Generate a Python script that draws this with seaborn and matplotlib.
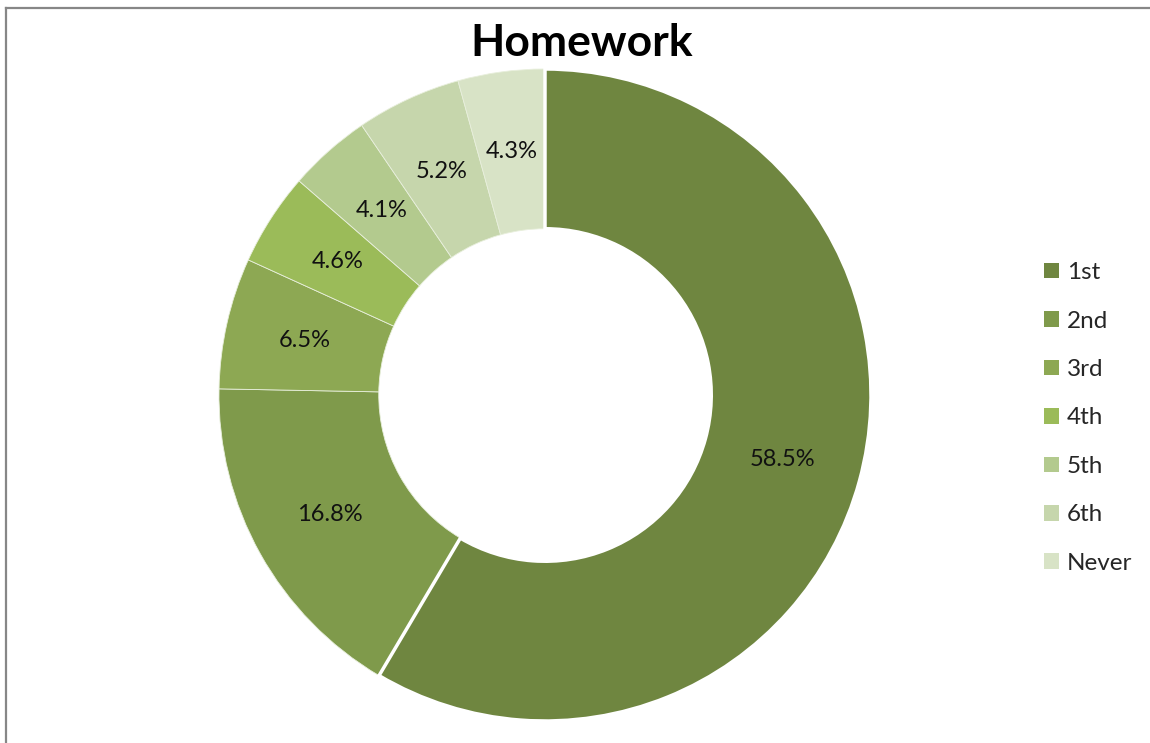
import matplotlib
matplotlib.use("Agg")
import matplotlib.pyplot as plt
from matplotlib.lines import Line2D
from matplotlib.patches import Patch
import seaborn as sns

# Homework ranking shares (percent)
categories = ["1st", "2nd", "3rd", "4th", "5th", "6th", "Never"]
shares = [58.5, 16.8, 6.5, 4.6, 4.1, 5.2, 4.3]
slice_colors = ["#6F8640", "#7F9A4B", "#8DA853", "#9BBB59", "#B3CA8E", "#C6D6AC", "#D8E3C6"]

sns.set_theme(style="white")
plt.rcParams["font.family"] = ["Lato", "DejaVu Sans"]

W, H = 1150, 743
fig = plt.figure(figsize=(W / 100, H / 100), dpi=100)

# chart-area frame: left and top edges only (the rest runs off the canvas)
fx, fy = 5.5 / W, 1 - 7.5 / H
fig.add_artist(Line2D([fx, fx], [0, fy], transform=fig.transFigure,
                      color="#878787", linewidth=1.6, solid_capstyle="projecting"))
fig.add_artist(Line2D([fx, 1], [fy, fy], transform=fig.transFigure,
                      color="#878787", linewidth=1.6, solid_capstyle="projecting"))

cx, cy, r = 545, 395, 326
ax = fig.add_axes([(cx - r) / W, (H - cy - r) / H, 2 * r / W, 2 * r / H])
ax.set_aspect("equal")

palette = sns.color_palette(slice_colors)
wedges, texts, autotexts = ax.pie(
    shares, colors=palette, startangle=90, counterclock=False, radius=1.0,
    autopct="%1.1f%%", pctdistance=0.755,
    wedgeprops=dict(width=0.49, edgecolor="#E8EFDC", linewidth=0.6),
    textprops=dict(fontsize=17, color="#111111"),
)
wedges[0].set_edgecolor("white")
wedges[0].set_linewidth(2.5)
wedges[0].set_zorder(3)
for t in autotexts:
    t.set_zorder(5)
ax.set_xlim(-1, 1)
ax.set_ylim(-1, 1)
ax.axis("off")

fig.text(582 / W, 1 - 43 / H, "Homework", ha="center", va="center",
         fontsize=32, fontweight="bold", color="#000000")

handles = [Patch(facecolor=c, edgecolor="none") for c in palette]
fig.legend(handles, categories, loc="center left", bbox_to_anchor=(1044 / W, 1 - 418 / H),
           frameon=False, fontsize=17.5, handlelength=0.62, handleheight=0.62,
           handletextpad=0.32, labelspacing=1.13, borderpad=0, borderaxespad=0)

fig.savefig("out.png", dpi=100, facecolor="white")
